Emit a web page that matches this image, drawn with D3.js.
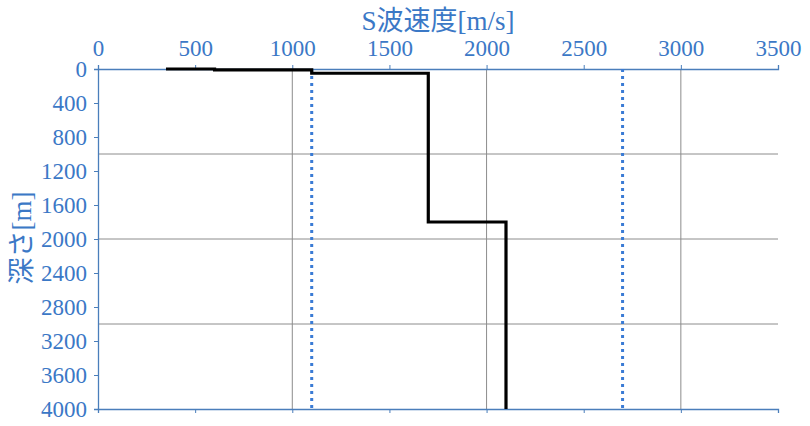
<!DOCTYPE html>
<html>
<head>
<meta charset="utf-8">
<script src="https://cdn.jsdelivr.net/npm/d3@7/dist/d3.min.js"></script>
<style>
  body { margin: 0; background: #fff; }
  .num { font-family: 'Liberation Serif', serif !important; font-size: 23px !important; }
  .ttl { font-family: 'Liberation Serif', 'Noto Sans CJK JP', serif; font-size: 27px; }
</style>
</head>
<body>
<svg id="chart" width="810" height="426"></svg>
<script>
// S-wave velocity profile (step line)
var vsValues    = [350, 600, 600, 1100, 1100, 1700, 1700, 2100, 2100];
var depthValues = [0,   0,   10,  10,   50,   50,   1800, 1800, 4000];

// reference velocities (dotted lines)
var refVs = [1100, 2700];

var xTicks = [0, 500, 1000, 1500, 2000, 2500, 3000, 3500];
var yTicks = [0, 400, 800, 1200, 1600, 2000, 2400, 2800, 3200, 3600, 4000];
var gridX = [1000, 2000, 3000];
var gridY = [1000, 2000, 3000];

var margin = {left: 98, right: 32, top: 69, bottom: 17};
var width = 810 - margin.left - margin.right;
var height = 426 - margin.top - margin.bottom;

var blue = '#3b78c6';
var axisBlue = '#4a7ebb';

var svg = d3.select('#chart');
var g = svg.append('g')
           .attr('transform', 'translate(' + margin.left + ',' + margin.top + ')');

var x = d3.scaleLinear().domain([0, 3500]).range([0, width]);
var y = d3.scaleLinear().domain([0, 4000]).range([0, height]);

// grid
g.selectAll('.gx').data(gridX).enter().append('line')
 .attr('x1', d => x(d)).attr('x2', d => x(d))
 .attr('y1', 0).attr('y2', height)
 .attr('stroke', '#8c8c8c').attr('stroke-width', 1);

g.selectAll('.gy').data(gridY).enter().append('line')
 .attr('x1', 0).attr('x2', width)
 .attr('y1', d => y(d)).attr('y2', d => y(d))
 .attr('stroke', '#8c8c8c').attr('stroke-width', 1);

var fmt = d3.format('d');

// top axis
var xAxis = d3.axisTop(x).tickValues(xTicks).tickSize(4).tickPadding(9).tickFormat(fmt);
var gx = g.append('g').attr('class', 'x axis').call(xAxis);

// bottom axis line with ticks
var gxb = g.append('g').attr('transform', 'translate(0,' + height + ')')
  .call(d3.axisBottom(x).tickValues(xTicks).tickSize(4).tickFormat(''));

// left axis
var yAxis = d3.axisLeft(y).tickValues(yTicks).tickSize(4).tickPadding(7).tickFormat(fmt);
var gy = g.append('g').attr('class', 'y axis').call(yAxis);

[gx, gxb, gy].forEach(function(a) {
  a.attr('font-family', null).attr('font-size', null);
  a.select('.domain').attr('stroke', axisBlue).attr('stroke-width', 1.3);
  a.selectAll('.tick line').attr('stroke', axisBlue);
  a.selectAll('.tick text')
   .attr('class', 'num')
   .attr('fill', blue);
});
gy.selectAll('.tick text').attr('dy', '0.34em');

// dotted reference lines
g.selectAll('.ref').data(refVs).enter().append('line')
 .attr('x1', d => x(d)).attr('x2', d => x(d))
 .attr('y1', 0).attr('y2', height)
 .attr('stroke', '#3a7bd5')
 .attr('stroke-width', 3)
 .attr('stroke-dasharray', '3,4');

// profile
var pts = vsValues.map(function(v, i) { return [v, depthValues[i]]; });
var line = d3.line().x(d => x(d[0])).y(d => y(d[1]));
g.append('path')
 .datum(pts)
 .attr('d', line)
 .attr('fill', 'none')
 .attr('stroke', '#000')
 .attr('stroke-width', 3.2)
 .attr('stroke-linejoin', 'miter');

// titles
svg.append('text')
   .attr('class', 'ttl')
   .attr('x', margin.left + width / 2)
   .attr('y', 30)
   .attr('text-anchor', 'middle')
   .attr('fill', blue)
   .text('S波速度[m/s]');

svg.append('text')
   .attr('class', 'ttl')
   .attr('transform', 'translate(31,238) rotate(-90)')
   .attr('text-anchor', 'middle')
   .attr('fill', blue)
   .text('深さ[m]');
</script>
</body>
</html>
